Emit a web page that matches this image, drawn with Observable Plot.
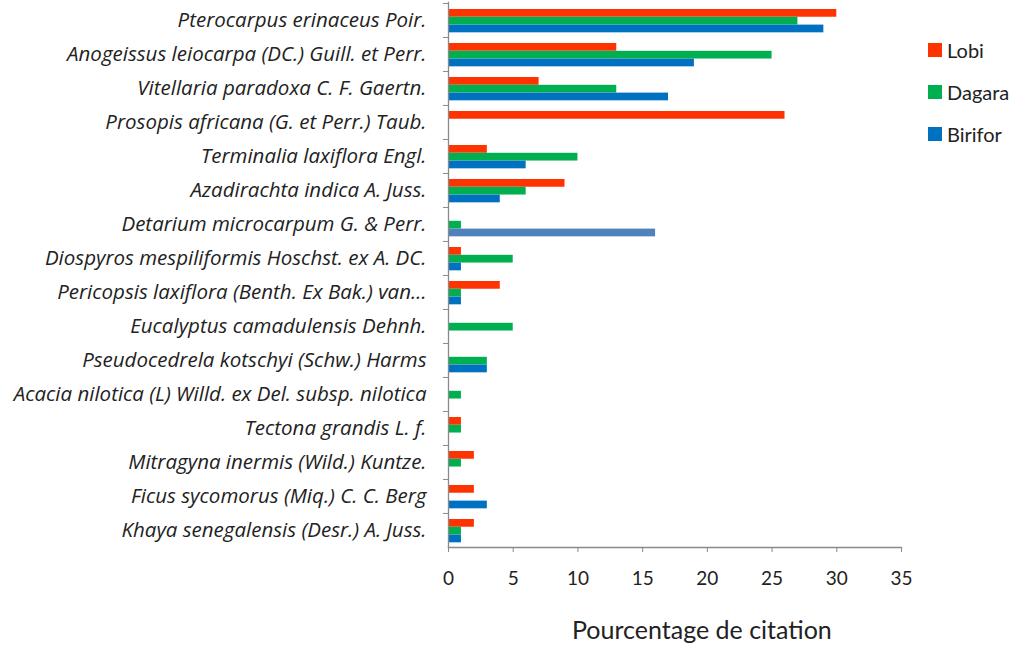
<!DOCTYPE html>
<html><head><meta charset="utf-8">
<script src="https://cdn.jsdelivr.net/npm/d3@7"></script>
<script src="https://cdn.jsdelivr.net/npm/@observablehq/plot@0.6"></script>
<style>
body{margin:0;background:#fff;}
#wrap{position:relative;width:1014px;height:648px;font-family:Lato,"Open Sans",sans-serif;}
#title{position:absolute;left:572px;top:614px;font-size:25px;color:#222;white-space:nowrap;}
.leg{position:absolute;left:928px;font-size:20px;color:#222;display:flex;align-items:center;}
.leg span.sw{display:inline-block;width:14px;height:14px;margin-right:5px;}
</style></head>
<body><div id="wrap"></div>
<script>
const species = [
 "Pterocarpus erinaceus Poir.",
 "Anogeissus leiocarpa (DC.) Guill. et Perr.",
 "Vitellaria paradoxa C. F. Gaertn.",
 "Prosopis africana (G. et Perr.) Taub.",
 "Terminalia laxiflora Engl.",
 "Azadirachta indica A. Juss.",
 "Detarium microcarpum G. & Perr.",
 "Diospyros mespiliformis Hoschst. ex A. DC.",
 "Pericopsis laxiflora (Benth. Ex Bak.) van…",
 "Eucalyptus camadulensis Dehnh.",
 "Pseudocedrela kotschyi (Schw.) Harms",
 "Acacia nilotica (L) Willd. ex Del. subsp. nilotica",
 "Tectona grandis L. f.",
 "Mitragyna inermis (Wild.) Kuntze.",
 "Ficus sycomorus (Miq.) C. C. Berg",
 "Khaya senegalensis (Desr.) A. Juss."
];
const series = ["Lobi","Dagara","Birifor"];
const lobi    = [30,13,7,26,3,9,0,1,4,0,0,0,1,2,2,2];
const dagara  = [27,25,13,0,10,6,1,5,1,5,3,1,1,1,0,1];
const birifor = [29,19,17,0,6,4,16,1,1,0,3,0,0,0,3,1];
const colors = ["#FF3300","#00B050","#0070C0"];
const altBiriforColor = "#4F81BD";
const altBiriforSpecies = "Detarium microcarpum G. & Perr.";
const xTicks = [0,5,10,15,20,25,30,35];
const xTitle = "Pourcentage de citation";

const W=1014,H=648,mL=448,mR=113,mT=2,mB=101;
const step=(H-mT-mB)/species.length;
const off=6, t=7.8;
const values=[lobi,dagara,birifor];
const marks=[];
series.forEach((s,i)=>{
  const data=species.map((sp,j)=>({species:sp,value:values[i][j]})).filter(d=>d.value>0);
  marks.push(Plot.barX(data,{
    y:"species",x:"value",
    fill: d => (i===2 && d.species===altBiriforSpecies) ? altBiriforColor : colors[i],
    insetTop: off+i*t, insetBottom: step-off-(i+1)*t
  }));
});
const chart=Plot.plot({
  width:W,height:H,marginLeft:mL,marginRight:mR,marginTop:mT,marginBottom:mB,
  style:{fontFamily:"Lato, sans-serif",color:"#222",background:"#fff"},
  x:{domain:[0,35]},
  y:{domain:species,padding:0},
  marks:[
    ...marks,
    Plot.frame({anchor:"left",stroke:"#8a8a8a",strokeWidth:1.3}),
    Plot.frame({anchor:"bottom",stroke:"#8a8a8a",strokeWidth:1.3}),
    Plot.axisY({tickSize:5,tickFormat:()=>"",dy:-step/2,stroke:"#8a8a8a",label:null}),
    Plot.axisY({tickSize:0,tickPadding:22,fontSize:20.5,fontStyle:"italic",fontFamily:"Open Sans",label:null,fill:"#222"}),
    Plot.axisX({ticks:xTicks,tickSize:5,tickPadding:19,fontSize:19,label:null,stroke:"#8a8a8a",fill:"#222"})
  ]
});
const wrap=document.getElementById("wrap");
wrap.appendChild(chart);
const ti=document.createElement("div");ti.id="title";ti.textContent=xTitle;wrap.appendChild(ti);
series.forEach((s,i)=>{
  const d=document.createElement("div");d.className="leg";d.style.top=(38+i*42)+"px";
  d.innerHTML=`<span class="sw" style="background:${colors[i]}"></span>${s}`;
  wrap.appendChild(d);
});
</script></body></html>
